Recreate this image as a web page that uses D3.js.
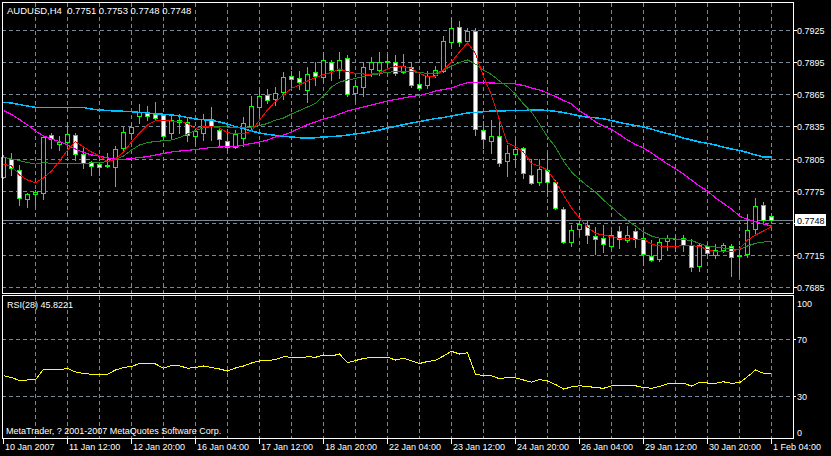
<!DOCTYPE html>
<html><head><meta charset="utf-8">
<script src="https://cdn.jsdelivr.net/npm/d3@7"></script>
<style>html,body{margin:0;padding:0;background:#000;overflow:hidden}</style>
</head><body>
<svg id="c" width="831" height="456"></svg>
<script>
const titleText = "AUDUSD,H4  0.7751 0.7753 0.7748 0.7748";
const rsiLabel = "RSI(28) 45.8221";
const copyright = "MetaTrader, ? 2001-2007 MetaQuotes Software Corp.";

const opens = [0.7788,0.7805,0.7794,0.7767,0.7772,0.7773,0.7827,0.7819,0.7820,0.7827,0.7809,0.7802,0.7800,0.7798,0.7797,0.7815,0.7829,0.7845,0.7848,0.7847,0.7846,0.7829,0.7841,0.7839,0.7826,0.7829,0.7842,0.7832,0.7821,0.7816,0.7824,0.7835,0.7853,0.7864,0.7861,0.7867,0.7882,0.7880,0.7869,0.7886,0.7881,0.7895,0.7888,0.7899,0.7866,0.7872,0.7889,0.7888,0.7895,0.7895,0.7886,0.7890,0.7875,0.7874,0.7883,0.7887,0.7914,0.7928,0.7915,0.7924,0.7832,0.7821,0.7826,0.7803,0.7809,0.7815,0.7790,0.7783,0.7794,0.7783,0.7758,0.7727,0.7739,0.7743,0.7733,0.7731,0.7723,0.7737,0.7729,0.7737,0.7731,0.7714,0.7711,0.7728,0.7730,0.7731,0.7724,0.7705,0.7723,0.7715,0.7720,0.7723,0.7714,0.7716,0.7739,0.7762,0.7751];
const highs = [0.7808,0.7810,0.7799,0.7773,0.7776,0.7827,0.7829,0.7826,0.7838,0.7829,0.7815,0.7803,0.7801,0.7810,0.7817,0.7834,0.7838,0.7856,0.7854,0.7858,0.7847,0.7846,0.7847,0.7843,0.7833,0.7847,0.7853,0.7835,0.7830,0.7832,0.7844,0.7863,0.7870,0.7870,0.7872,0.7886,0.7887,0.7887,0.7890,0.7895,0.7904,0.7897,0.7904,0.7902,0.7878,0.7895,0.7900,0.7904,0.7903,0.7902,0.7903,0.7895,0.7884,0.7887,0.7891,0.7919,0.7936,0.7933,0.7927,0.7927,0.7840,0.7841,0.7840,0.7818,0.7822,0.7816,0.7805,0.7805,0.7810,0.7785,0.7760,0.7743,0.7748,0.7747,0.7741,0.7743,0.7738,0.7742,0.7742,0.7740,0.7735,0.7729,0.7730,0.7734,0.7734,0.7734,0.7730,0.7725,0.7726,0.7725,0.7726,0.7725,0.7723,0.7753,0.7768,0.7764,0.7753];
const lows = [0.7787,0.7790,0.7762,0.7760,0.7762,0.7767,0.7815,0.7813,0.7808,0.7804,0.7796,0.7790,0.7790,0.7797,0.7779,0.7811,0.7824,0.7838,0.7841,0.7841,0.7824,0.7824,0.7829,0.7821,0.7819,0.7822,0.7822,0.7816,0.7813,0.7815,0.7817,0.7832,0.7845,0.7857,0.7855,0.7861,0.7872,0.7870,0.7858,0.7874,0.7876,0.7878,0.7880,0.7863,0.7860,0.7863,0.7882,0.7883,0.7889,0.7883,0.7885,0.7872,0.7870,0.7871,0.7881,0.7886,0.7910,0.7910,0.7914,0.7827,0.7815,0.7810,0.7798,0.7789,0.7797,0.7787,0.7781,0.7780,0.7770,0.7758,0.7726,0.7723,0.7734,0.7726,0.7716,0.7718,0.7722,0.7721,0.7727,0.7722,0.7706,0.7709,0.7709,0.7720,0.7719,0.7719,0.7700,0.7700,0.7715,0.7712,0.7718,0.7695,0.7696,0.7713,0.7735,0.7744,0.7748];
const closes = [0.7806,0.7796,0.7768,0.7772,0.7774,0.7825,0.7823,0.7820,0.7828,0.7809,0.7801,0.7798,0.7797,0.7799,0.7814,0.7830,0.7834,0.7848,0.7845,0.7843,0.7826,0.7841,0.7839,0.7827,0.7831,0.7842,0.7835,0.7823,0.7816,0.7828,0.7838,0.7854,0.7863,0.7860,0.7866,0.7881,0.7879,0.7876,0.7884,0.7882,0.7897,0.7888,0.7897,0.7865,0.7873,0.7890,0.7895,0.7895,0.7896,0.7885,0.7891,0.7874,0.7871,0.7882,0.7888,0.7915,0.7927,0.7914,0.7924,0.7833,0.7823,0.7826,0.7801,0.7810,0.7814,0.7791,0.7782,0.7795,0.7783,0.7759,0.7727,0.7738,0.7744,0.7734,0.7730,0.7725,0.7734,0.7730,0.7734,0.7730,0.7716,0.7710,0.7727,0.7731,0.7730,0.7724,0.7704,0.7724,0.7717,0.7720,0.7724,0.7713,0.7715,0.7738,0.7761,0.7748,0.7748];

const maRed = [0.77998,0.77980,0.77896,0.77849,0.77824,0.77868,0.77933,0.78026,0.78129,0.78207,0.78157,0.78111,0.78073,0.78020,0.78045,0.78111,0.78204,0.78288,0.78363,0.78403,0.78403,0.78400,0.78400,0.78377,0.78332,0.78349,0.78349,0.78335,0.78291,0.78283,0.78279,0.78307,0.78409,0.78503,0.78580,0.78643,0.78705,0.78736,0.78774,0.78806,0.78834,0.78853,0.78886,0.78861,0.78846,0.78839,0.78839,0.78848,0.78886,0.78914,0.78909,0.78890,0.78844,0.78816,0.78820,0.78876,0.78951,0.79045,0.79131,0.79032,0.78814,0.78643,0.78409,0.78195,0.78162,0.78111,0.78003,0.77980,0.77942,0.77833,0.77709,0.77588,0.77494,0.77410,0.77351,0.77335,0.77321,0.77305,0.77305,0.77298,0.77298,0.77251,0.77233,0.77228,0.77230,0.77237,0.77237,0.77228,0.77200,0.77181,0.77179,0.77181,0.77205,0.77289,0.77335,0.77373,0.77415];
const maGreen = [0.78062,0.78045,0.78031,0.78012,0.77998,0.78011,0.78005,0.78005,0.78005,0.78005,0.78005,0.78008,0.78011,0.78022,0.78040,0.78073,0.78129,0.78176,0.78199,0.78209,0.78216,0.78223,0.78246,0.78279,0.78311,0.78335,0.78349,0.78349,0.78344,0.78339,0.78341,0.78344,0.78358,0.78377,0.78409,0.78428,0.78465,0.78498,0.78531,0.78565,0.78634,0.78718,0.78764,0.78783,0.78797,0.78816,0.78830,0.78842,0.78855,0.78861,0.78861,0.78861,0.78853,0.78844,0.78844,0.78876,0.78914,0.78946,0.78970,0.78932,0.78876,0.78834,0.78774,0.78720,0.78652,0.78559,0.78484,0.78372,0.78251,0.78157,0.78026,0.77924,0.77854,0.77793,0.77737,0.77662,0.77597,0.77531,0.77471,0.77419,0.77363,0.77326,0.77307,0.77303,0.77298,0.77293,0.77284,0.77256,0.77233,0.77223,0.77214,0.77206,0.77200,0.77233,0.77258,0.77270,0.77279];
const maMagenta = [0.78498,0.78461,0.78414,0.78363,0.78307,0.78260,0.78232,0.78209,0.78176,0.78139,0.78106,0.78083,0.78073,0.78055,0.78045,0.78042,0.78050,0.78059,0.78068,0.78083,0.78097,0.78111,0.78120,0.78126,0.78134,0.78143,0.78153,0.78157,0.78160,0.78162,0.78176,0.78190,0.78204,0.78223,0.78251,0.78269,0.78297,0.78332,0.78367,0.78391,0.78419,0.78437,0.78465,0.78493,0.78512,0.78531,0.78550,0.78568,0.78587,0.78601,0.78615,0.78629,0.78638,0.78657,0.78680,0.78694,0.78708,0.78736,0.78758,0.78760,0.78758,0.78755,0.78753,0.78752,0.78746,0.78732,0.78708,0.78690,0.78662,0.78629,0.78592,0.78559,0.78493,0.78451,0.78391,0.78353,0.78321,0.78274,0.78223,0.78181,0.78148,0.78101,0.78050,0.77998,0.77956,0.77905,0.77849,0.77793,0.77746,0.77681,0.77630,0.77578,0.77513,0.77480,0.77460,0.77438,0.77419];
const maBlue = [0.78575,0.78568,0.78554,0.78540,0.78528,0.78528,0.78528,0.78528,0.78528,0.78528,0.78526,0.78512,0.78503,0.78498,0.78493,0.78491,0.78487,0.78481,0.78475,0.78468,0.78463,0.78456,0.78447,0.78433,0.78419,0.78412,0.78405,0.78391,0.78372,0.78347,0.78328,0.78307,0.78288,0.78276,0.78267,0.78257,0.78251,0.78244,0.78241,0.78244,0.78251,0.78255,0.78260,0.78269,0.78279,0.78288,0.78302,0.78316,0.78335,0.78349,0.78367,0.78381,0.78395,0.78409,0.78423,0.78433,0.78447,0.78461,0.78475,0.78481,0.78487,0.78493,0.78495,0.78496,0.78496,0.78498,0.78503,0.78503,0.78498,0.78491,0.78479,0.78465,0.78447,0.78437,0.78430,0.78421,0.78405,0.78386,0.78372,0.78358,0.78344,0.78325,0.78302,0.78283,0.78265,0.78241,0.78223,0.78204,0.78192,0.78176,0.78157,0.78139,0.78125,0.78106,0.78083,0.78064,0.78062];
const rsi = [44.25,42.98,40.88,41.23,41.23,48.74,48.74,48.25,49.44,46.84,45.79,45.23,45.23,45.23,48.25,50.0,50.7,52.81,52.46,52.46,49.44,51.54,51.26,49.44,50.0,51.05,50.0,48.95,47.54,49.65,51.05,53.16,54.56,54.77,55.61,57.58,57.16,56.67,57.58,57.16,58.77,58.07,59.47,53.37,54.91,56.32,57.02,57.16,57.16,55.26,56.46,54.7,52.81,54.21,55.05,58.07,61.37,59.47,60.39,45.23,44.25,44.25,42.07,42.98,42.77,41.23,39.68,41.58,40.53,38.07,34.91,36.32,37.16,36.67,35.96,35.4,37.16,37.02,37.51,37.16,35.96,35.4,36.67,38.56,38.91,38.91,37.02,39.47,39.12,38.91,39.96,38.91,39.33,43.54,48.25,45.93,45.8221];

const timeLabels = ["10 Jan 2007","11 Jan 12:00","12 Jan 20:00","16 Jan 04:00","17 Jan 12:00","18 Jan 20:00","22 Jan 04:00","23 Jan 12:00","24 Jan 20:00","26 Jan 04:00","29 Jan 12:00","30 Jan 20:00","1 Feb 04:00"];
const priceTicks = [0.7925,0.7895,0.7865,0.7835,0.7805,0.7775,0.7745,0.7715,0.7685];
const rsiTicks = [100,70,30,0];
const rsiGridLevels = [70,30];
const lastPrice = 0.7748;

const n = closes.length;
const svg = d3.select("#c");
const FONT = "'Liberation Sans', Arial, sans-serif";
const GRID = "#778899";

const L = 2, R = 793, T = 2, MB = 293, RT = 295, RB = 438;
const x = d3.scaleLinear().domain([0, n - 1]).range([3, 771]);
const y = d3.scaleLinear().domain([0.7685, 0.7925]).range([287, 30]);
const yr = d3.scaleLinear().domain([0, 100]).range([438.75, 296.25]);
const px = i => Math.round(x(i)) + 0.5;

svg.append("rect").attr("width", 831).attr("height", 456).attr("fill", "#000");

const g = svg.append("g").attr("shape-rendering", "crispEdges");

// vertical grid (every 4 bars)
const vIdx = d3.range(4, n, 4);
[[T + 1, MB], [RT + 1, RB]].forEach(([a, b]) => {
  g.selectAll(null).data(vIdx).enter().append("line")
    .attr("x1", px).attr("x2", px).attr("y1", a).attr("y2", b)
    .attr("stroke", GRID).attr("stroke-dasharray", "4,3");
});
// horizontal price grid
g.selectAll(null).data(priceTicks).enter().append("line")
  .attr("x1", L).attr("x2", R).attr("y1", d => Math.round(y(d)) + 0.5).attr("y2", d => Math.round(y(d)) + 0.5)
  .attr("stroke", GRID).attr("stroke-dasharray", "4,3");
// rsi grid
g.selectAll(null).data(rsiGridLevels).enter().append("line")
  .attr("x1", L).attr("x2", R).attr("y1", d => Math.round(yr(d)) + 0.5).attr("y2", d => Math.round(yr(d)) + 0.5)
  .attr("stroke", GRID).attr("stroke-dasharray", "4,3");

// bid line
g.append("line").attr("x1", L).attr("x2", R)
  .attr("y1", Math.round(y(lastPrice)) + 0.5).attr("y2", Math.round(y(lastPrice)) + 0.5)
  .attr("stroke", GRID);

// candles
const idx = d3.range(n);
g.selectAll(null).data(idx).enter().append("line")
  .attr("x1", px).attr("x2", px)
  .attr("y1", i => Math.round(y(highs[i]))).attr("y2", i => Math.round(y(lows[i])) + 1)
  .attr("stroke", "#00ff00");
idx.forEach(i => {
  const yo = Math.round(y(opens[i])), yc = Math.round(y(closes[i]));
  const top = Math.min(yo, yc), bot = Math.max(yo, yc);
  const cx = px(i);
  if (bot - top < 1) {
    g.append("line").attr("x1", cx - 2.5).attr("x2", cx + 2.5).attr("y1", top + 0.5).attr("y2", top + 0.5).attr("stroke", "#00ff00");
  } else {
    g.append("rect").attr("x", cx - 2).attr("y", top + 0.5).attr("width", 4).attr("height", bot - top)
      .attr("fill", closes[i] < opens[i] ? "#ffffff" : "#000000").attr("stroke", "#00ff00");
  }
});

// moving averages
const line = d3.line().x((d, i) => x(i) + 0.5).y(d => y(d));
[[maBlue, "#00bfff", 1.5], [maMagenta, "#ff00ff", 1.2], [maGreen, "#228b22", 1], [maRed, "#ff0000", 1]].forEach(([arr, col, w]) => {
  svg.append("path").attr("d", line(arr)).attr("fill", "none").attr("stroke", col)
    .attr("stroke-width", w).attr("shape-rendering", "crispEdges");
});

// rsi line
const rline = d3.line().x((d, i) => x(i) + 0.5).y(d => yr(d));
svg.append("path").attr("d", rline(rsi)).attr("fill", "none").attr("stroke", "#ffff00")
  .attr("stroke-width", 1).attr("shape-rendering", "crispEdges");

// frames
const fr = svg.append("g").attr("shape-rendering", "crispEdges").attr("stroke", "#ffffff").attr("fill", "none");
fr.append("rect").attr("x", L + 0.5).attr("y", T + 0.5).attr("width", R - L).attr("height", MB - T);
fr.append("rect").attr("x", L + 0.5).attr("y", RT + 0.5).attr("width", R - L).attr("height", RB - RT);

// price axis labels (the one hidden under the last-price box is not drawn)
const ly = Math.round(y(lastPrice));
const ax = svg.append("g").attr("font-family", FONT).attr("font-size", 9).attr("fill", "#fff");
ax.selectAll(null).data(priceTicks.filter(d => Math.abs(y(d) - ly) > 10)).enter().append("text")
  .attr("x", 797).attr("y", d => Math.round(y(d)) + 4).text(d => d.toFixed(4));
fr.selectAll(null).data(priceTicks).enter().append("line")
  .attr("x1", R).attr("x2", R + 4).attr("y1", d => Math.round(y(d)) + 0.5).attr("y2", d => Math.round(y(d)) + 0.5);

// last price box
svg.append("rect").attr("x", 795).attr("y", ly - 6).attr("width", 31).attr("height", 12).attr("fill", "#fff");
svg.append("text").attr("x", 797).attr("y", ly + 4).attr("font-family", FONT).attr("font-size", 9).attr("fill", "#000").text(lastPrice.toFixed(4));

// rsi axis labels
const rsiLabelY = {100: 306.5, 70: 342.5, 30: 399.5, 0: 436};
ax.selectAll(null).data(rsiTicks).enter().append("text")
  .attr("x", 797).attr("y", d => rsiLabelY[d]).text(d => d);
fr.selectAll(null).data(rsiGridLevels).enter().append("line")
  .attr("x1", R).attr("x2", R + 3).attr("y1", d => Math.round(yr(d)) + 0.5).attr("y2", d => Math.round(yr(d)) + 0.5);

// time axis
const tIdx = timeLabels.map((t, k) => k * 8);
fr.selectAll(null).data(tIdx).enter().append("line")
  .attr("x1", px).attr("x2", px).attr("y1", RB + 1).attr("y2", RB + 6);
ax.selectAll(null).data(timeLabels).enter().append("text")
  .attr("x", (d, k) => Math.round(x(k * 8)) + 2).attr("y", 450).text(d => d);

// titles
svg.append("text").attr("x", 7).attr("y", 14).attr("font-family", FONT).attr("font-size", 9.5).attr("fill", "#fff").style("white-space", "pre").text(titleText);
svg.append("text").attr("x", 7).attr("y", 308).attr("font-family", FONT).attr("font-size", 9).attr("fill", "#fff").text(rsiLabel);
svg.append("text").attr("x", 6).attr("y", 434).attr("font-family", FONT).attr("font-size", 9).attr("fill", "#fff").text(copyright);
</script>
</body></html>
